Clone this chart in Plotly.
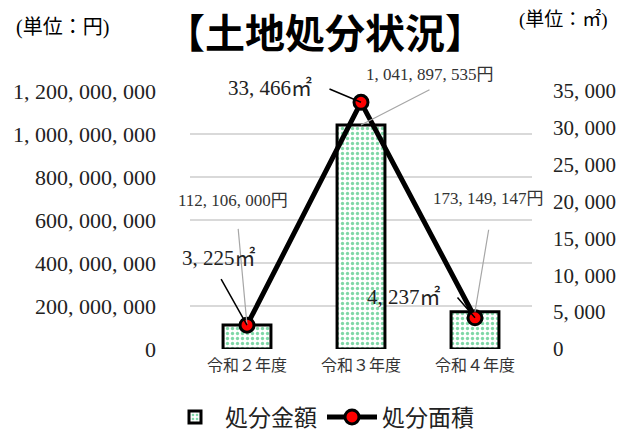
import plotly.graph_objects as go

categories = ["令和２年度", "令和３年度", "令和４年度"]
amount_yen = [112106000, 1041897535, 173149147]
area_m2 = [3225, 33466, 4237]
left_ticks = [0, 200000000, 400000000, 600000000, 800000000, 1000000000, 1200000000]
right_ticks = [0, 5000, 10000, 15000, 20000, 25000, 30000, 35000]

SERIF = "Liberation Serif, Noto Sans CJK JP"
CJK = "Noto Sans CJK JP"

W, H = 625, 432
L, R, T, B = 190, 93, 91, 83
pw, ph = W - L - R, H - T - B


def px(x):
    return (x - L) / pw


def py(y):
    return (H - B - y) / ph


def fmt(v):
    return f"{v:,}".replace(",", ", ")


fig = go.Figure()
fig.add_trace(go.Bar(
    x=categories, y=amount_yen, name="処分金額", yaxis="y",
    marker=dict(color="white",
                line=dict(color="black", width=3),
                pattern=dict(shape=".", fgcolor="#00B050", bgcolor="white",
                             size=5, solidity=0.35)),
))
fig.add_trace(go.Scatter(
    x=categories, y=area_m2, name="処分面積", yaxis="y2", mode="lines+markers",
    line=dict(color="black", width=5),
    marker=dict(color="#FF0000", size=14, line=dict(color="black", width=3)),
))

annotations = []
# amount labels (gray leaders)
amt_text_shift = [(-14, 124), (69, 50), (13, 113)]
amt_leader = [(-9, -98), (70, -36), (14, -84)]
for c, v, (xs, ys), (ax, ay) in zip(categories, amount_yen, amt_text_shift, amt_leader):
    annotations.append(dict(x=c, y=v, xref="x", yref="y", text=" ", showarrow=True,
                            arrowhead=0, arrowwidth=1.2, arrowcolor="#A6A6A6",
                            ax=ax, ay=ay, font=dict(size=1)))
    annotations.append(dict(x=c, y=v, xref="x", yref="y", text=fmt(v) + "円",
                            showarrow=False, xshift=xs, yshift=ys,
                            font=dict(family=SERIF, size=17, color="#333333")))
# area labels (black leaders)
area_text_shift = [(-28, 67), (-91, 14), (-71, 21)]
area_leader = [(-27, -48), (-33, -14), (-19, -22)]
for c, v, (xs, ys), (ax, ay) in zip(categories, area_m2, area_text_shift, area_leader):
    annotations.append(dict(x=c, y=v, xref="x", yref="y2", text=" ", showarrow=True,
                            arrowhead=0, arrowwidth=1.5, arrowcolor="black",
                            ax=ax, ay=ay, font=dict(size=1)))
    annotations.append(dict(x=c, y=v, xref="x", yref="y2", text=fmt(v) + "㎡",
                            showarrow=False, xshift=xs, yshift=ys,
                            font=dict(family=SERIF, size=21, color="#222222")))

# title and units
annotations.append(dict(x=px(325), y=py(0), xref="paper", yref="paper",
                        xanchor="center", yanchor="top",
                        text="<b>【土地処分状況】</b>", showarrow=False,
                        font=dict(family=CJK, size=40, color="black")))
annotations.append(dict(x=px(62), y=py(27), xref="paper", yref="paper",
                        xanchor="center", yanchor="middle",
                        text="(単位：円)", showarrow=False,
                        font=dict(family=SERIF, size=20, color="black")))
annotations.append(dict(x=px(563), y=py(20), xref="paper", yref="paper",
                        xanchor="center", yanchor="middle",
                        text="(単位：㎡)", showarrow=False,
                        font=dict(family=SERIF, size=19, color="black")))

fig.update_layout(
    width=W, height=H,
    margin=dict(l=L, r=R, t=T, b=B, autoexpand=False),
    paper_bgcolor="white", plot_bgcolor="white",
    bargap=0.58,
    showlegend=True,
    legend=dict(orientation="h", x=px(322), y=py(417), xanchor="center", yanchor="middle",
                font=dict(family=CJK, size=23, color="#222222"), itemwidth=50),
    xaxis=dict(range=[-0.5, 2.5], autorange=False, showgrid=False, showline=False,
               ticks="", ticklabelstandoff=5,
               tickfont=dict(family=CJK, size=16, color="#333333")),
    yaxis=dict(range=[0, 1200000000], autorange=False, tickvals=left_ticks,
               ticktext=[fmt(v) for v in left_ticks],
               showgrid=True, gridcolor="#D9D9D9", gridwidth=1.5,
               zeroline=False, showline=False, ticks="", ticklabelstandoff=33,
               tickfont=dict(family=SERIF, size=22, color="#222222")),
    yaxis2=dict(range=[0, 35000], autorange=False, tickvals=right_ticks,
                ticktext=[fmt(v) for v in right_ticks],
                overlaying="y", side="right", showgrid=False, zeroline=False,
                showline=False, ticks="", ticklabelstandoff=20,
                tickfont=dict(family=SERIF, size=21, color="#222222")),
    annotations=annotations,
)

fig.write_html("out.html", config={"displayModeBar": False},
               post_script="document.body.style.margin='0';document.body.style.overflow='hidden';")
